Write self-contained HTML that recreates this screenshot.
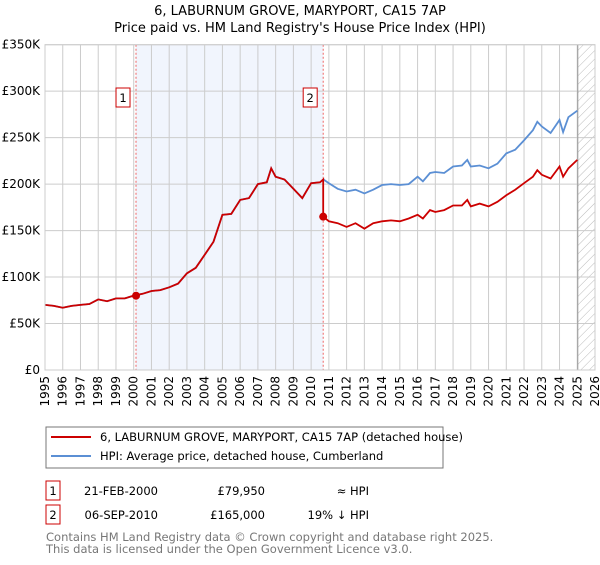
<!DOCTYPE html>
<html><head><meta charset="utf-8"><style>
body{margin:0;background:#fff;font-family:"Liberation Sans","DejaVu Sans",sans-serif;}
svg text{font-family:"DejaVu Sans","Liberation Sans",sans-serif;}
</style></head><body>
<svg id="c" width="600" height="560" xmlns="http://www.w3.org/2000/svg">
<defs><pattern id="hatch" width="6" height="6" patternUnits="userSpaceOnUse" patternTransform="rotate(45)"><line x1="0" y1="0" x2="0" y2="6" stroke="#bbb" stroke-width="1"/></pattern></defs>
<text x="300" y="15" text-anchor="middle" font-size="13">6, LABURNUM GROVE, MARYPORT, CA15 7AP</text>
<text x="300" y="32" text-anchor="middle" font-size="13">Price paid vs. HM Land Registry's House Price Index (HPI)</text>
<g id="plot"></g>
<rect x="46" y="427" width="397" height="41" fill="#fff" stroke="#777"/>
<line x1="51" y1="437" x2="91" y2="437" stroke="#cc0000" stroke-width="2"/>
<text x="100" y="441" font-size="11.5">6, LABURNUM GROVE, MARYPORT, CA15 7AP (detached house)</text>
<line x1="51" y1="456" x2="91" y2="456" stroke="#5b8fd4" stroke-width="2"/>
<text x="100" y="460" font-size="11.5">HPI: Average price, detached house, Cumberland</text>
<g>
<rect x="46" y="481" width="14" height="19" fill="#fff" stroke="#cc0000"/>
<text x="53" y="495" text-anchor="middle" font-size="11.5">1</text>
<text x="158" y="495" text-anchor="end" font-size="11.5">21-FEB-2000</text>
<text x="265" y="495" text-anchor="end" font-size="11.5">£79,950</text>
<text x="369" y="495" text-anchor="end" font-size="11.5">≈ HPI</text></g>
<g>
<rect x="46" y="505" width="14" height="19" fill="#fff" stroke="#cc0000"/>
<text x="53" y="519" text-anchor="middle" font-size="11.5">2</text>
<text x="158" y="519" text-anchor="end" font-size="11.5">06-SEP-2010</text>
<text x="265" y="519" text-anchor="end" font-size="11.5">£165,000</text>
<text x="369" y="519" text-anchor="end" font-size="11.5">19% ↓ HPI</text></g>
<text x="46" y="541" font-size="11.5" fill="#777">Contains HM Land Registry data © Crown copyright and database right 2025.</text>
<text x="46" y="553" font-size="11.5" fill="#777">This data is licensed under the Open Government Licence v3.0.</text>
</svg>
<script>
const hpiYears=[1995,1995.5,1996,1996.5,1997,1997.5,1998,1998.5,1999,1999.5,2000,2000.5,2001,2001.5,2002,2002.5,2003,2003.5,2004,2004.5,2005,2005.5,2006,2006.5,2007,2007.5,2007.75,2008,2008.5,2009,2009.5,2010,2010.5,2010.7,2011,2011.5,2012,2012.5,2013,2013.5,2014,2014.5,2015,2015.5,2016,2016.3,2016.7,2017,2017.5,2018,2018.5,2018.8,2019,2019.5,2020,2020.5,2021,2021.5,2022,2022.5,2022.75,2023,2023.5,2024,2024.2,2024.5,2025];
const hpiValues=[70,69,67,69,70,71,76,74,77,77,80,82,85,86,89,93,104,110,124,138,167,168,183,185,200,202,217,208,205,195,185,201,202,205,201,195,192,194,190,194,199,200,199,200,208,203,212,213,212,219,220,226,219,220,217,222,233,237,247,258,267,262,255,269,256,272,279];
const propYears=[1995,1995.5,1996,1996.5,1997,1997.5,1998,1998.5,1999,1999.5,2000,2000.5,2001,2001.5,2002,2002.5,2003,2003.5,2004,2004.5,2005,2005.5,2006,2006.5,2007,2007.5,2007.75,2008,2008.5,2009,2009.5,2010,2010.5,2010.68,2010.68,2011,2011.5,2012,2012.5,2013,2013.5,2014,2014.5,2015,2015.5,2016,2016.3,2016.7,2017,2017.5,2018,2018.5,2018.8,2019,2019.5,2020,2020.5,2021,2021.5,2022,2022.5,2022.75,2023,2023.5,2024,2024.2,2024.5,2025];
const propValues=[70,69,67,69,70,71,76,74,77,77,80,82,85,86,89,93,104,110,124,138,167,168,183,185,200,202,217,208,205,195,185,201,202,205,165,160,158,154,158,152,158,160,161,160,163,167,163,172,170,172,177,177,183,176,179,176,181,188,194,201,208,215,210,206,219,208,217,226];
const saleYears=[2000.13,2010.68];
const saleValues=[79.95,165];
const saleLabels=["1","2"];
const yTicks=[0,50,100,150,200,250,300,350];
const yTickLabels=["£0","£50K","£100K","£150K","£200K","£250K","£300K","£350K"];
const xTicks=[1995,1996,1997,1998,1999,2000,2001,2002,2003,2004,2005,2006,2007,2008,2009,2010,2011,2012,2013,2014,2015,2016,2017,2018,2019,2020,2021,2022,2023,2024,2025,2026];
const forecastStart=2025.03;

const L=45,R=595,T=44.7,B=370;
const X=y=>L+(y-1995)*(R-L)/31;
const Y=v=>B-v*(B-T)/350;
const NS="http://www.w3.org/2000/svg";
const g=document.getElementById('plot');
function mk(tag,attrs,parent){const e=document.createElementNS(NS,tag);for(const k in attrs)e.setAttribute(k,attrs[k]);(parent||g).appendChild(e);return e;}

let sh=mk('rect',{x:X(2000.13),y:T,width:X(2010.68)-X(2000.13),height:B-T,fill:'#eef2fc',opacity:0.8});


let ht=mk('rect',{x:X(forecastStart),y:T,width:R-X(forecastStart),height:B-T,fill:'url(#hatch)'});


yTicks.forEach((v,i)=>{
 let l=mk('line',{x1:L,x2:R,y1:Y(v),y2:Y(v),stroke:'#ccc','stroke-width':1});
 
 
 let t=mk('text',{x:L-5,y:Y(v)+4,'text-anchor':'end','font-size':12});
 t.textContent=yTickLabels[i];
 
 
});
xTicks.forEach(yr=>{
 let l=mk('line',{x1:X(yr),x2:X(yr),y1:T,y2:B,stroke:'#ccc','stroke-width':1});
 
 
 let t=mk('text',{x:0,y:0,'text-anchor':'end','font-size':12,transform:`translate(${X(yr)+4},${B+6}) rotate(-90)`});
 t.textContent=yr;
 
 
});
let vl=mk('line',{x1:X(forecastStart),x2:X(forecastStart),y1:T,y2:B,stroke:'#999','stroke-width':1});


saleYears.forEach((yr,i)=>{
 let d=mk('line',{x1:X(yr),x2:X(yr),y1:T,y2:B,stroke:'#e66','stroke-width':1,'stroke-dasharray':'2,2'});
 
 
});
function pts(xs,vs){return xs.map((x,i)=>X(x).toFixed(1)+','+Y(vs[i]).toFixed(1)).join(' ');}
let hp=mk('polyline',{points:pts(hpiYears,hpiValues),fill:'none',stroke:'#5b8fd4','stroke-width':1.8});


let pp=mk('polyline',{points:pts(propYears,propValues),fill:'none',stroke:'#cc0000','stroke-width':1.8});


saleYears.forEach((yr,i)=>{
 let c=mk('circle',{cx:X(yr),cy:Y(saleValues[i]),r:4,fill:'#cc0000'});
 
 
 let bx=X(yr)-13;
 let r=mk('rect',{x:bx-7,y:88,width:14,height:19,fill:'#fff',stroke:'#cc0000'});
 
 
 let t=mk('text',{x:bx,y:102,'text-anchor':'middle','font-size':11.5});
 t.textContent=saleLabels[i];
 
 
});
let fr=mk('rect',{x:L,y:T,width:R-L,height:B-T,fill:'none',stroke:'#ccc'});


</script>
</body></html>
